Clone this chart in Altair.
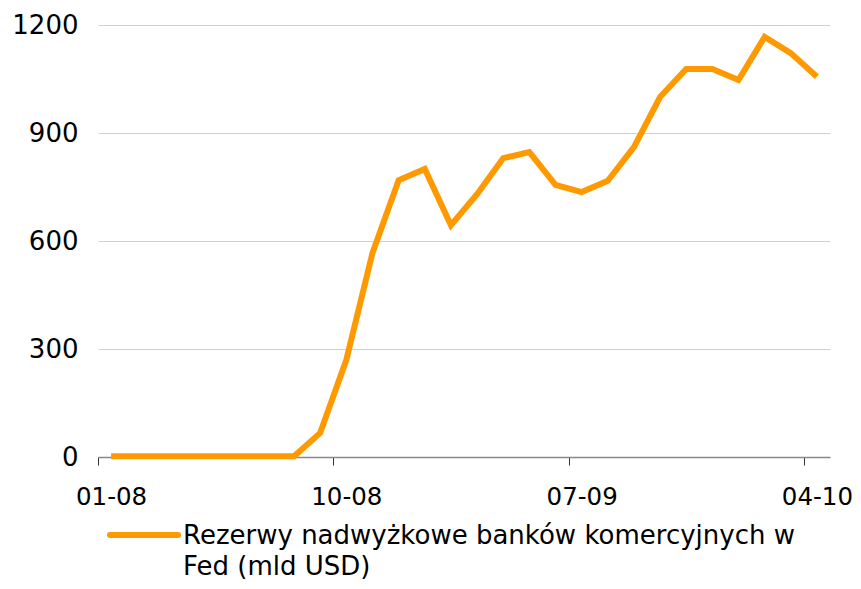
import json
import altair as alt
import pandas as pd

# monthly labels, 01-08 .. 04-10
months = [
    "01-08", "02-08", "03-08", "04-08", "05-08", "06-08", "07-08", "08-08",
    "09-08", "10-08", "11-08", "12-08", "01-09", "02-09", "03-09", "04-09",
    "05-09", "06-09", "07-09", "08-09", "09-09", "10-09", "11-09", "12-09",
    "01-10", "02-10", "03-10", "04-10",
]
reserves = [
    2, 2, 2, 2, 2, 2, 2, 2,
    67, 270, 567, 769, 800, 644, 730, 830, 847, 756, 736, 767,
    861, 1000, 1078, 1078, 1047, 1167, 1122, 1056,
]
label_months = ["01-08", "10-08", "07-09", "04-10"]
y_ticks = [0, 300, 600, 900, 1200]
legend_lines = ["Rezerwy nadwyżkowe banków komercyjnych w", "Fed (mld USD)"]

FONT = "DejaVu Sans"
FSIZE = 26
ORANGE = "#ff9900"

df = pd.DataFrame({"idx": list(range(len(months))), "month": months, "value": reserves})

label_idx = [months.index(m) for m in label_months]
tick_idx = [i - 0.5 for i in label_idx]
axis_vals = sorted(label_idx + tick_idx)
label_expr = "datum.value % 1 == 0 ? " + json.dumps(months) + "[datum.value] : ''"

line = alt.Chart(df).mark_line(color=ORANGE, strokeWidth=6).encode(
    x=alt.X(
        "idx:Q",
        scale=alt.Scale(domain=[-0.5, len(months) - 0.5], nice=False, zero=False),
        axis=alt.Axis(
            title=None,
            values=axis_vals,
            labelExpr=label_expr,
            labelFlush=False,
            labelOverlap=False,
            labelBound=False,
            labelFont=FONT,
            labelFontSize=24.5,
            labelColor="black",
            labelPadding=20,
            labelBaseline="top",
            tickSize=8,
            tickColor="#333333",
            tickOpacity={"condition": {"test": "datum.value % 1 != 0", "value": 1}, "value": 0},
            domainColor="#888888",
            domainWidth=1.5,
            grid=False,
        ),
    ),
    y=alt.Y(
        "value:Q",
        scale=alt.Scale(domain=[0, 1200], nice=False),
        axis=alt.Axis(
            title=None,
            values=y_ticks,
            format="d",
            labelFont=FONT,
            labelFontSize=FSIZE,
            labelColor="black",
            labelPadding=20,
            ticks=False,
            domain=False,
            gridColor="#d0d0d0",
            gridWidth=1,
        ),
    ),
    tooltip=[alt.Tooltip("month:N"), alt.Tooltip("value:Q")],
)

one = pd.DataFrame({"k": [0]})
legend_rule = alt.Chart(one).mark_rule(
    color=ORANGE, strokeWidth=6, strokeCap="round"
).encode(x=alt.value(12), x2=alt.value(80), y=alt.value(510))
legend_text = alt.Chart(one).mark_text(
    text=legend_lines, font=FONT, fontSize=FSIZE, align="left",
    baseline="alphabetic", lineHeight=31, color="black",
).encode(x=alt.value(85), y=alt.value(519))

chart = (line + legend_rule + legend_text).properties(
    width=732,
    height=432,
    autosize=alt.AutoSizeParams(type="none"),
    padding={"left": 90, "top": 17, "right": 23, "bottom": 124},
).configure_view(stroke=None)

chart.save("out.html", embed_options={"renderer": "svg", "actions": False})
